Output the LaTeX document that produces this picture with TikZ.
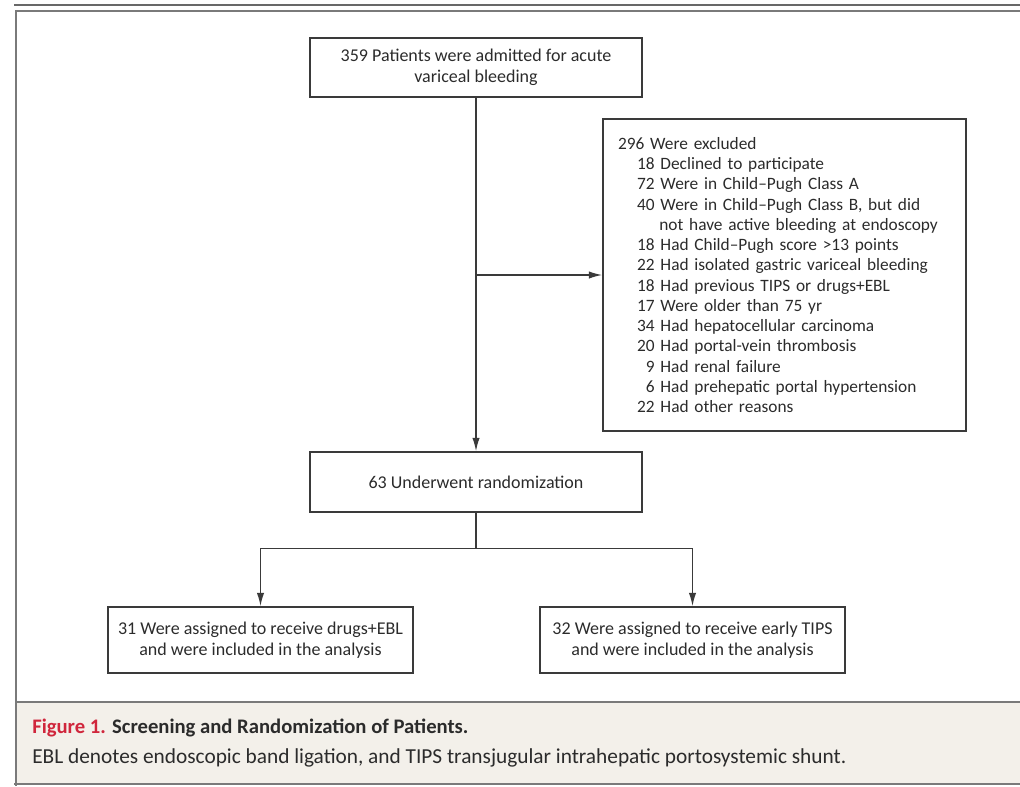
\documentclass[tikz,border=0pt]{standalone}
\usepackage{fontspec}
\setmainfont{Carlito}
\usetikzlibrary{arrows.meta,calc}
\definecolor{txt}{HTML}{2B2B2B}
\definecolor{boxline}{HTML}{3A3A3A}
\definecolor{frameline}{HTML}{7A7A7A}
\definecolor{capbg}{HTML}{F3F0EA}
\definecolor{capred}{HTML}{D0263C}
\newcommand{\exitem}[2]{\hspace*{14pt}\makebox[13.5pt][r]{#1}\ #2}
\begin{document}
\begin{tikzpicture}[x=0.75pt,y=-0.75pt,
  box/.style={draw=boxline, line width=1.1pt, text=txt, align=center,
    font=\fontsize{13.5}{15.5}\selectfont, inner sep=0pt},
  conn/.style={draw=boxline, line width=1.1pt},
  arr/.style={conn, -{Latex[length=10pt,width=5.5pt]}},
  frame/.style={draw=frameline, line width=1.3pt}]
\useasboundingbox (0,0) rectangle (1020,786);
% caption background
\fill[capbg] (16,702) rectangle (1020,784);
% frame lines
\draw[draw=frameline!85!black, line width=1.6pt] (14,5) -- (1020,5);
\draw[frame] (16,786) -- (16,11) -- (1020,11);
\draw[frame] (16,702) -- (1020,702);
\draw[frame] (14,784) -- (1020,784);
% nodes
\node[box, minimum width=249pt, minimum height=44.25pt] (top) at (476,67.5)
  {359 Patients were admitted for acute\\variceal bleeding};
\node[box, minimum width=272.25pt, minimum height=234pt, text width=249.75pt,
  align=left, inner xsep=11.25pt, font=\fontsize{13}{15.2}\selectfont] (exc) at (784.5,275)
  {296 Were excluded\\
   \exitem{18}{Declined to participate}\\
   \exitem{72}{Were in Child--Pugh Class A}\\
   \exitem{40}{Were in Child--Pugh Class B, but did}\\
   \hspace*{31pt}not have active bleeding at endoscopy\\
   \exitem{18}{Had Child--Pugh score >13 points}\\
   \exitem{22}{Had isolated gastric variceal bleeding}\\
   \exitem{18}{Had previous TIPS or drugs+EBL}\\
   \exitem{17}{Were older than 75 yr}\\
   \exitem{34}{Had hepatocellular carcinoma}\\
   \exitem{20}{Had portal-vein thrombosis}\\
   \exitem{9}{Had renal failure}\\
   \exitem{6}{Had prehepatic portal hypertension}\\
   \exitem{22}{Had other reasons}};
\node[box, minimum width=249pt, minimum height=45pt] (rand) at (476,482)
  {63 Underwent randomization};
\node[box, minimum width=228.75pt, minimum height=49.5pt] (lbox) at (260.5,640)
  {31 Were assigned to receive drugs+EBL\\and were included in the analysis};
\node[box, minimum width=228.75pt, minimum height=49.5pt] (rbox) at (692.5,640)
  {32 Were assigned to receive early TIPS\\and were included in the analysis};
% connectors
\draw[arr] (top.south) -- (rand.north);
\draw[arr] (top.south |- exc.west) -- (exc.west);
\coordinate (split) at ($(rand.south)+(0,36)$);
\draw[arr] (rand.south) -- (split) -| (lbox.north);
\draw[arr] (split) -| (rbox.north);
% caption
\node[anchor=base west, inner sep=0pt, font=\fontsize{15.5}{18}\selectfont\bfseries, text=txt]
  (captitle) at (32,733) {\textcolor{capred}{Figure 1.} Screening and Randomization of Patients.};
\node[anchor=base west, inner sep=0pt, font=\fontsize{16}{18}\selectfont, text=txt]
  (captext) at (32,763) {EBL denotes endoscopic band ligation, and TIPS transjugular intrahepatic portosystemic shunt.};
\end{tikzpicture}
\end{document}
